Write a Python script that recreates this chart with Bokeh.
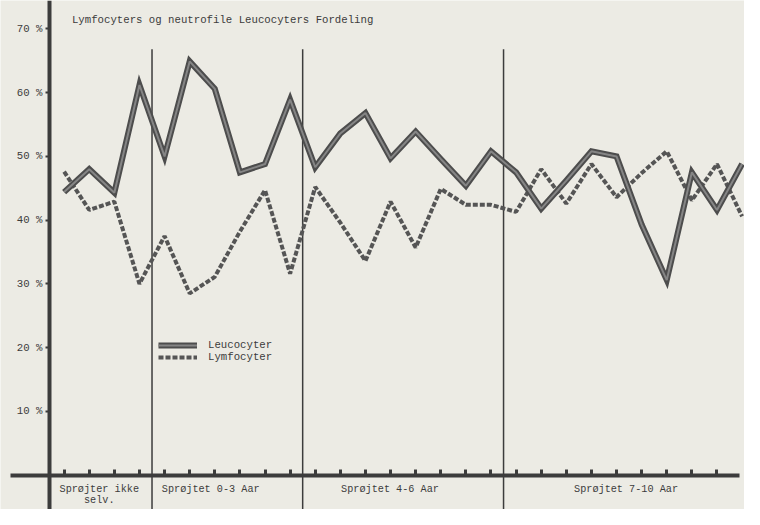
from bokeh.plotting import figure
from bokeh.models import Range1d, FixedTicker, Legend, LegendItem, Label, LinearAxis
from bokeh.embed import file_html
from bokeh.resources import INLINE

title_text = "Lymfocyters og neutrofile Leucocyters Fordeling"

leucocyter = [44.4, 48.0, 44.3, 61.2, 50.0, 64.9, 60.6, 47.5, 48.8, 58.9,
              48.3, 53.6, 56.8, 49.7, 53.9, 49.6, 45.4, 50.8, 47.5, 41.8,
              46.2, 50.8, 50.0, 39.3, 30.6, 47.5, 41.6, 48.8]
lymfocyter = [47.6, 41.6, 42.9, 30.0, 37.5, 28.5, 31.1, 38.2, 44.7, 31.6,
              45.2, 39.6, 33.6, 42.9, 35.7, 44.9, 42.4, 42.4, 41.3, 48.0,
              42.6, 48.8, 43.6, 47.4, 50.8, 43.1, 48.8, 40.6]
idx = list(range(len(leucocyter)))

group_labels = ["Sprøjter ikke\nselv.", "Sprøjtet  0-3 Aar",
                "Sprøjtet  4-6 Aar", "Sprøjtet  7-10 Aar"]
group_label_x = [1.4, 5.96, 13.1, 22.5]
group_dividers = [3.5, 9.5, 17.5]

y_ticks = [10, 20, 30, 40, 50, 60, 70]
y_tick_labels = ["10 %", "20 %", "30 %", "40 %", "50 %", "60 %", "70 %"]
x_ticks = list(range(27))

PAPER = "#ecebe4"
INK = "#3c3c3c"
FONT = "Liberation Mono"
FS = "10.7px"

X0, X1 = -2.534, 27.096
Y0, Y1 = -5.4, 74.46

p = figure(width=744, height=509, x_range=Range1d(X0, X1), y_range=Range1d(Y0, Y1),
           output_backend="svg", toolbar_location=None, min_border=0,
           x_axis_type=None, y_axis_type=None)
p.background_fill_color = PAPER
p.border_fill_color = PAPER
p.outline_line_color = None
p.xgrid.visible = False
p.ygrid.visible = False

yaxis = LinearAxis(fixed_location=-0.585, ticker=FixedTicker(ticks=y_ticks),
                   major_label_overrides=dict(zip(y_ticks, y_tick_labels)),
                   bounds=(Y0, Y1))
yaxis.axis_line_color = INK
yaxis.axis_line_width = 4
yaxis.major_tick_in = 0
yaxis.major_tick_out = 4
yaxis.major_tick_line_color = INK
yaxis.major_tick_line_width = 2
yaxis.minor_tick_line_color = None
yaxis.major_label_standoff = 3
yaxis.major_label_text_font = FONT
yaxis.major_label_text_font_size = FS
yaxis.major_label_text_color = INK
p.add_layout(yaxis, "left")

xaxis = LinearAxis(fixed_location=0,
                   ticker=FixedTicker(ticks=group_label_x, minor_ticks=x_ticks),
                   major_label_overrides=dict(zip(group_label_x, group_labels)),
                   bounds=(-2.14, 26.9))
xaxis.axis_line_color = INK
xaxis.axis_line_width = 4
xaxis.major_tick_line_color = None
xaxis.minor_tick_in = 6
xaxis.minor_tick_out = 0
xaxis.minor_tick_line_color = INK
xaxis.minor_tick_line_width = 3
xaxis.major_label_standoff = 3
xaxis.major_label_text_font = FONT
xaxis.major_label_text_font_size = "10.2px"
xaxis.major_label_text_color = INK
xaxis.major_label_text_line_height = 1.0
p.add_layout(xaxis, "below")

p.segment(x0=group_dividers, y0=[66.8] * len(group_dividers),
          x1=group_dividers, y1=[Y0] * len(group_dividers),
          line_color=INK, line_width=1.5)

r_ly = p.line(idx, lymfocyter, line_color="#555555", line_width=4, line_dash="5 2")
r_out = p.line(idx, leucocyter, line_color="#4d4d4d", line_width=6, line_join="miter")
r_in = p.line(idx, leucocyter, line_color="#858585", line_width=2)

p.add_layout(Label(x=0.31, y=71.4, text=title_text, text_font=FONT, text_font_size=FS,
                   text_color=INK, text_baseline="middle", text_align="left"))

legend = Legend(items=[LegendItem(label="Leucocyter", renderers=[r_out, r_in]),
                       LegendItem(label="Lymfocyter", renderers=[r_ly])],
                location=(158, 146), glyph_width=39, glyph_height=12, label_height=12,
                spacing=0, padding=0, margin=0, label_standoff=11,
                background_fill_alpha=0, border_line_color=None,
                label_text_font=FONT, label_text_font_size=FS, label_text_color=INK)
p.add_layout(legend)

open("out.html", "w").write(file_html(p, INLINE))
